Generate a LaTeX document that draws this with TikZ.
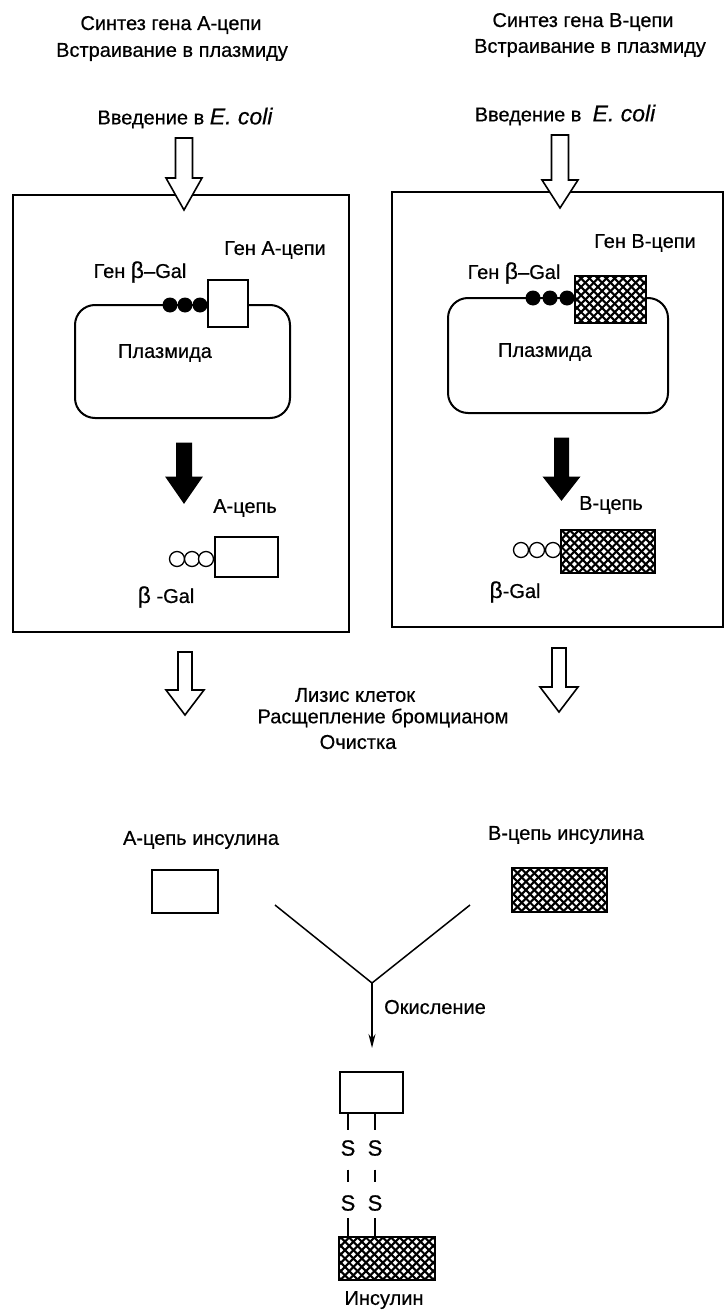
\documentclass[tikz,border=0pt]{standalone}
\usepackage{fontspec}
\setmainfont{Liberation Sans}
\newfontfamily\heavyfont{Liberation Sans}[FakeBold=0.5]
\usetikzlibrary{arrows.meta,calc,fit}
\newcommand{\blockarrow}[7]{% x, top, headstart, tip, shaft half, head half, style
  \draw[#7] (#1-#5,#2) -- (#1+#5,#2) -- (#1+#5,#3) -- (#1+#6,#3) -- (#1,#4) -- (#1-#6,#3) -- (#1-#5,#3) -- cycle;}
\begin{document}
\begin{tikzpicture}[x=1pt,y=-1pt,
  txt/.style={inner sep=0pt, font=\heavyfont\fontsize{20}{24}\selectfont},
  ssym/.style={inner sep=0pt, font=\heavyfont\fontsize{22}{24}\selectfont},
  frame/.style={draw, inner sep=0pt, line width=2.2pt},
  plasmid/.style={draw, inner sep=0pt, line width=2pt, rounded corners=20pt},
  whitebox/.style={draw, fill=white, inner sep=0pt, line width=2pt},
  hatched/.style={draw, fill=white, inner sep=0pt, line width=2.2pt,
    path picture={
      \foreach \k in {-14,...,14}{
        \draw[line width=2.1pt] ([xshift=\k*8.4pt]path picture bounding box.center) +(-45pt,-45pt) -- +(45pt,45pt);
        \draw[line width=2.1pt] ([xshift=\k*8.4pt]path picture bounding box.center) +(-45pt,45pt) -- +(45pt,-45pt);
      }}},
  bead/.style={circle, fill=black, inner sep=0pt, minimum size=15pt},
  obead/.style={circle, draw, fill=white, line width=1.3pt, inner sep=0pt, minimum size=15pt},
  hollow/.style={draw, fill=white, line width=1.6pt, line join=miter},
  solid/.style={draw, fill=black, line width=1pt, line join=miter},
  conn/.style={line width=1.5pt}
]
\useasboundingbox[fill=white] (0,0) rectangle (725,1311);

% ---------- top texts ----------
\node[txt] (tA1) at (171,25) {Синтез гена А-цепи};
\node[txt] (tA2) at (172,52) {Встраивание в плазмиду};
\node[txt] (tA3) at (185,118) {Введение в {\fontsize{23}{24}\selectfont\itshape E. coli}};
\node[txt] (tB1) at (583,22) {Синтез гена В-цепи};
\node[txt] (tB2) at (590,48) {Встраивание в плазмиду};
\node[txt] (tB3) at (565,115) {Введение в \ {\fontsize{23}{24}\selectfont\itshape E. coli}};

% ---------- cell frames ----------
\node[frame, fit={(13,195) (349,632)}] (cellA) {};
\node[frame, fit={(392,192) (723,627)}] (cellB) {};

% hollow arrows into the cells
\blockarrow{184}{138}{178}{210}{8.5}{18}{hollow}
\blockarrow{560}{135}{180}{208}{8.5}{18}{hollow}

% ---------- left cell ----------
\node[plasmid, fit={(75,305) (290,418)}] (plA) {};
\node[bead] (dA1) at (170,305) {};
\node[bead] (dA2) at (185,305) {};
\node[bead] (dA3) at (200,305) {};
\node[whitebox, fit={(208,280) (248,327)}] (geneA) {};
\node[txt] (lgA) at (275,250) {Ген А-цепи};
\node[txt] (lbA) at (140,272) {Ген {\fontsize{23}{24}\selectfont β}–Gal};
\node[txt] (lpA) at (165,353) {Плазмида};
\blockarrow{184}{443}{477}{503}{7.5}{18}{solid}
\node[txt] (lcA) at (245,508) {А-цепь};
\node[obead] (oA1) at (177,559) {};
\node[obead] (oA2) at (192,559) {};
\node[obead] (oA3) at (206,559) {};
\node[whitebox, fit={(215,537) (278,577)}] (protA) {};
\node[txt] (lgalA) at (166,597) {{\fontsize{23}{24}\selectfont β} -Gal};

% ---------- right cell ----------
\node[plasmid, fit={(448,298) (668,413)}] (plB) {};
\node[bead] (dB1) at (533,298) {};
\node[bead] (dB2) at (550,298) {};
\node[bead] (dB3) at (567,298) {};
\node[hatched, fit={(575,276) (646,323)}] (geneB) {};
\node[txt] (lgB) at (645,243) {Ген В-цепи};
\node[txt] (lbB) at (514,273) {Ген {\fontsize{23}{24}\selectfont β}–Gal};
\node[txt] (lpB) at (545,352) {Плазмида};
\blockarrow{561.5}{438}{477}{500}{7}{18}{solid}
\node[txt] (lcB) at (611,505) {В-цепь};
\node[obead] (oB1) at (521,550) {};
\node[obead] (oB2) at (537,550) {};
\node[obead] (oB3) at (553,550) {};
\node[hatched, fit={(561,530) (655,573)}] (protB) {};
\node[txt] (lgalB) at (515,592) {{\fontsize{23}{24}\selectfont β}-Gal};

% ---------- middle ----------
\blockarrow{185}{652}{690}{715}{7}{19}{hollow}
\blockarrow{559}{648}{687}{712}{7}{19}{hollow}
\node[txt] (m1) at (355,695) {Лизис клеток};
\node[txt] (m2) at (383,718) {Расщепление бромцианом};
\node[txt] (m3) at (358,742) {Очистка};

\node[txt] (lchA) at (201,840) {А-цепь инсулина};
\node[whitebox, fit={(152,870) (218,913)}] (chA) {};
\node[txt] (lchB) at (566,835) {В-цепь инсулина};
\node[hatched, fit={(512,868) (607,912)}] (chB) {};

\coordinate (vA) at (275,905);
\coordinate (vB) at (470,905);
\coordinate (J) at (372,983);
\coordinate (arrEnd) at (372,1048);
\draw[conn] (vA) -- (J) -- (vB);
\draw[conn, -{Stealth[length=14pt,width=7pt]}] (J) -- (arrEnd);
\node[txt] (ox) at (435,1007) {Окисление};

% ---------- insulin ----------
\node[whitebox, fit={(340,1072) (403,1113)}] (insA) {};
\node[hatched, fit={(339,1237) (435,1280)}] (insB) {};
\node[ssym] (S1) at (348,1148) {S};
\node[ssym] (S2) at (375,1148) {S};
\node[ssym] (S3) at (348,1203) {S};
\node[ssym] (S4) at (375,1203) {S};
\draw[conn] (insA.south -| S1) -- ++(0,16);
\draw[conn] (insA.south -| S2) -- ++(0,16);
\draw[conn] ($(S1)!0.5!(S3)$) +(0,-6) -- +(0,6);
\draw[conn] ($(S2)!0.5!(S4)$) +(0,-6) -- +(0,6);
\draw[conn] (insB.north -| S3) -- ++(0,-18);
\draw[conn] (insB.north -| S4) -- ++(0,-18);
\node[txt] (lins) at (384,1300) {Инсулин};
\end{tikzpicture}
\end{document}
